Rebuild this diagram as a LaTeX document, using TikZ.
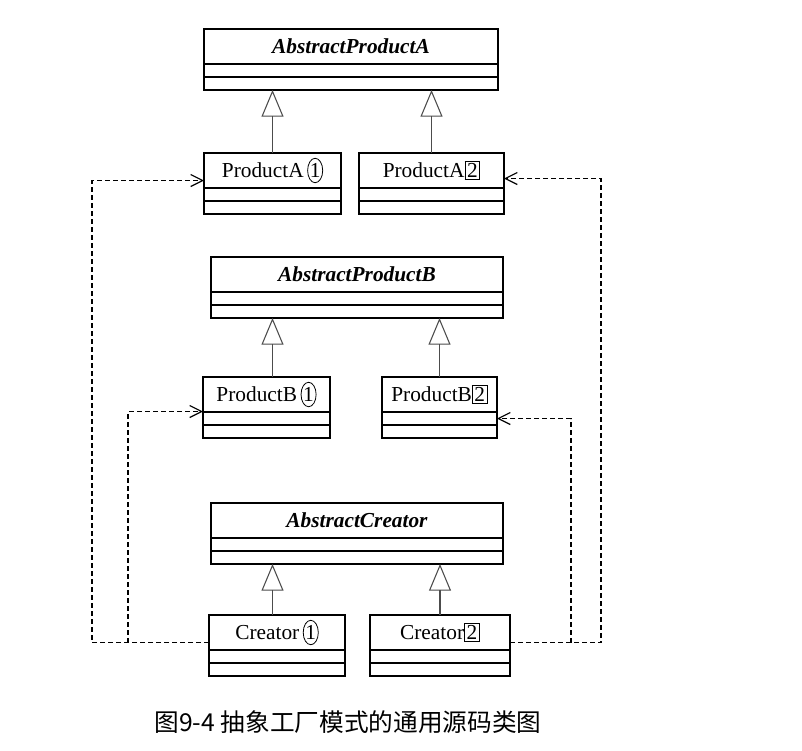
\documentclass[tikz,border=0pt]{standalone}
\usepackage{fontspec}
\setmainfont{Liberation Serif}
\newfontfamily\cjkfont{Noto Sans CJK SC}
\usetikzlibrary{arrows.meta,positioning,calc,shapes.geometric}
\newcommand{\circnum}[1]{\tikz[baseline=(cnum.base)]\node[draw, ellipse, inner xsep=0pt, inner ysep=1.2pt, outer sep=0pt, minimum width=0pt, minimum height=0pt, line width=0.6pt] (cnum) {#1};}
\newcommand{\boxnum}[1]{{\setlength{\fboxsep}{1.2pt}\setlength{\fboxrule}{0.7pt}\fbox{#1}}}

\begin{document}
\begin{tikzpicture}[x=0.75pt, y=-0.75pt,
    cls/.style={draw, line width=0.9pt, minimum height=26.25pt, inner sep=0pt, outer sep=0pt, font=\fontsize{16}{19}\selectfont},
    abscls/.style={cls, font=\fontsize{16}{19}\selectfont\bfseries\itshape},
    comp/.style={draw, line width=0.9pt, minimum height=9.75pt, inner sep=0pt, outer sep=0pt},
    inh/.style={-{Triangle[open, length=20pt, width=16.5pt, line width=0.8pt]}, line width=1.2pt, draw=black!70},
    dep/.style={-{Straight Barb[length=9pt, width=9pt]}, line width=0.9pt, dash pattern=on 3.75pt off 2.25pt}
  ]
    \useasboundingbox (0,0) rectangle (802,750);

    % Product A family
    \node[abscls, minimum width=220.5pt] (apa) at (351,46.5) {AbstractProductA};
    \node[comp, minimum width=220.5pt, below=0pt of apa] (apaf) {};
    \node[comp, minimum width=220.5pt, below=0pt of apaf] (apam) {};
    \node[cls, minimum width=102.75pt] (pa1) at (272.5,170.5) {ProductA\,\circnum{1}};
    \node[comp, minimum width=102.75pt, below=0pt of pa1] (pa1f) {};
    \node[comp, minimum width=102.75pt, below=0pt of pa1f] (pa1m) {};
    \node[cls, minimum width=108.75pt] (pa2) at (431.5,170.5) {ProductA\boxnum{2}};
    \node[comp, minimum width=108.75pt, below=0pt of pa2] (pa2f) {};
    \node[comp, minimum width=108.75pt, below=0pt of pa2f] (pa2m) {};
    \draw[inh] (pa1.north) -- (pa1.north |- apam.south);
    \draw[inh] (pa2.north) -- (pa2.north |- apam.south);

    % Product B family
    \node[abscls, minimum width=219pt] (apb) at (357,274.5) {AbstractProductB};
    \node[comp, minimum width=219pt, below=0pt of apb] (apbf) {};
    \node[comp, minimum width=219pt, below=0pt of apbf] (apbm) {};
    \node[cls, minimum width=95.25pt] (pb1) at (266.5,394.5) {ProductB\,\circnum{1}};
    \node[comp, minimum width=95.25pt, below=0pt of pb1] (pb1f) {};
    \node[comp, minimum width=95.25pt, below=0pt of pb1f] (pb1m) {};
    \node[cls, minimum width=86.25pt] (pb2) at (439.5,394.5) {ProductB\boxnum{2}};
    \node[comp, minimum width=86.25pt, below=0pt of pb2] (pb2f) {};
    \node[comp, minimum width=86.25pt, below=0pt of pb2f] (pb2m) {};
    \draw[inh] (pb1.north -| pa1.north) -- (pa1.north |- apbm.south);
    \draw[inh] (pb2.north) -- (pb2.north |- apbm.south);

    % Creators
    \node[abscls, minimum width=219pt] (ac) at (357,520.5) {AbstractCreator};
    \node[comp, minimum width=219pt, below=0pt of ac] (acf) {};
    \node[comp, minimum width=219pt, below=0pt of acf] (acm) {};
    \node[cls, minimum width=102pt] (c1) at (277,632.5) {Creator\,\circnum{1}};
    \node[comp, minimum width=102pt, below=0pt of c1] (c1f) {};
    \node[comp, minimum width=102pt, below=0pt of c1f] (c1m) {};
    \node[cls, minimum width=105pt] (c2) at (440,632.5) {Creator\boxnum{2}};
    \node[comp, minimum width=105pt, below=0pt of c2] (c2f) {};
    \node[comp, minimum width=105pt, below=0pt of c2f] (c2m) {};
    \draw[inh] (c1.north -| pa1.north) -- (pa1.north |- acm.south);
    \draw[inh] (c2.north) -- (c2.north |- acm.south);

    % Dependencies
    \draw[dep] ($(c1.west)+(0,10)$) -| ($(pa1.west)+(-112,10)$) -- ($(pa1.west)+(0,10)$);
    \draw[dep] ($(c1.west)+(-81,10)$) |- ($(pb1.west)+(0,17)$);
    \draw[dep] ($(c2.east)+(0,10)$) -| ($(pa2.east)+(97,8)$) -- ($(pa2.east)+(0,8)$);
    \draw[dep] ($(c2.east)+(61,10)$) |- ($(pb2.east)+(0,24)$);

    \node[font=\cjkfont\fontsize{18.5}{22}\selectfont] (cap) at (348,722) {图9-4 抽象工厂模式的通用源码类图};
  \end{tikzpicture}
\end{document}
